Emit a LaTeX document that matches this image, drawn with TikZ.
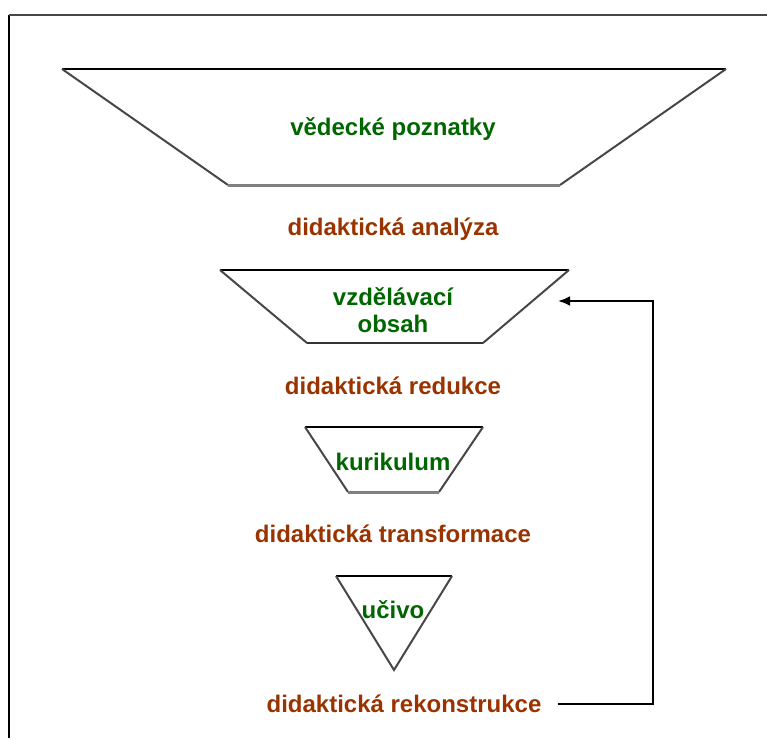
\documentclass[tikz,border=0pt]{standalone}
\usepackage{fontspec}
\setmainfont{Liberation Sans}
\usetikzlibrary{calc,arrows.meta}

\definecolor{lvlgreen}{RGB}{0,102,0}
\definecolor{stepbrown}{RGB}{153,51,0}

\tikzset{
  level/.style={font=\fontsize{24}{27}\selectfont\bfseries, text=lvlgreen, align=center, inner sep=0pt},
  stage/.style={font=\fontsize{24}{27}\selectfont\bfseries, text=stepbrown, inner sep=0pt},
  rim/.style={line width=2pt, black},
  side/.style={line width=2pt, black!72},
  floor/.style={line width=3pt, black!50}
}

\begin{document}
\begin{tikzpicture}[x=1pt,y=-1pt]
      \useasboundingbox (0,0) rectangle (767,738);
      % frame
      \draw[line width=2.5pt] (9,738) -- (9,15);
      \draw[line width=2.5pt, black!72] (9,15) -- (767,15);
      % funnel pieces
      \draw[rim] (62,69) -- (726,69);
      \draw[side] (62,69) -- (228,185);
      \draw[side] (726,69) -- (560,185);
      \draw[floor] (228,185) -- (560,185);
      \draw[rim] (220,270) -- (569,270);
      \draw[side] (220,270) -- (307,343);
      \draw[side] (569,270) -- (483,343);
      \draw[line width=2pt, black!80] (307,343) -- (483,343);
      \draw[rim] (305,427) -- (483,427);
      \draw[side] (305,427) -- (348,492);
      \draw[side] (483,427) -- (439,492);
      \draw[floor] (348,492) -- (439,492);
      \draw[rim] (336,576) -- (452,576);
      \draw[side] (336,576) -- (394,670) -- (452,576);
      % texts
      \node[level] (poznatky) at (393,129) {vědecké poznatky};
      \node[stage] (analyza) at (393,229) {didaktická analýza};
      \node[level] (obsah) at (393,310) {vzdělávací\\obsah};
      \node[stage] (redukce) at (393,386) {didaktická redukce};
      \node[level] (kurikulum) at (393,462) {kurikulum};
      \node[stage] (transformace) at (393,534) {didaktická transformace};
      \node[level] (ucivo) at (393,610) {učivo};
      \node[stage] (rekonstrukce) at (404,704) {didaktická rekonstrukce};
      % feedback
      \coordinate (obsahR) at (558,301);
      \coordinate (turn) at (653,301);
      \draw[line width=2.5pt, -{Latex[length=12pt,width=10pt]}, shorten <=16pt] (rekonstrukce.east) -| (turn) -- (obsahR);
\end{tikzpicture}
\end{document}
